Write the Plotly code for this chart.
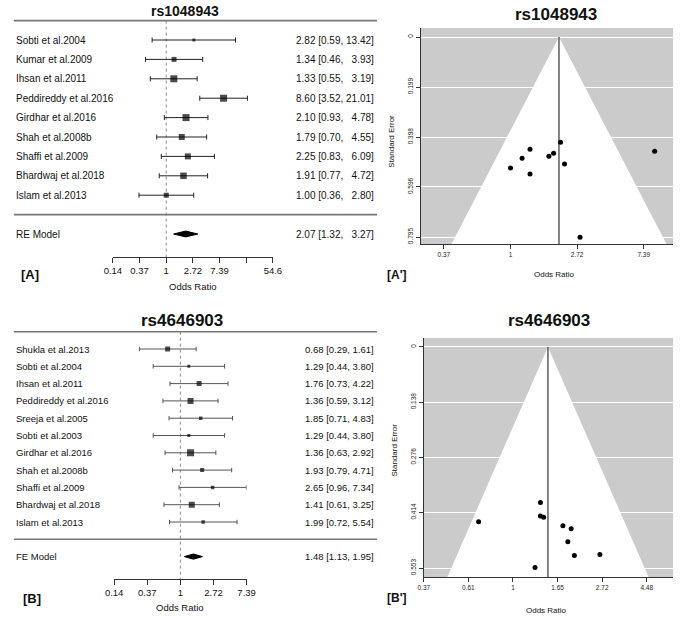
import numpy as np
import plotly.graph_objects as go

W, H = 685, 617
FONT = "Liberation Sans, Arial, sans-serif"

# ---------------- rs1048943 ----------------
A_STUDIES = ["Sobti et al.2004", "Kumar et al.2009", "Ihsan et al.2011", "Peddireddy et al.2016",
             "Girdhar et al.2016", "Shah et al.2008b", "Shaffi et al.2009", "Bhardwaj et al.2018",
             "Islam et al.2013"]
A_OR = [2.82, 1.34, 1.33, 8.60, 2.10, 1.79, 2.25, 1.91, 1.00]
A_LO = [0.59, 0.46, 0.55, 3.52, 0.93, 0.70, 0.83, 0.77, 0.36]
A_HI = [13.42, 3.93, 3.19, 21.01, 4.78, 4.55, 6.09, 4.72, 2.80]
A_MODEL = "RE Model"
A_POOLED = [2.07, 1.32, 3.27]

A_FUN_OR = [1.34, 1.19, 1.00, 1.34, 1.78, 1.91, 2.12, 2.25, 8.70, 2.84]
A_FUN_SE = [0.446, 0.482, 0.521, 0.545, 0.474, 0.462, 0.418, 0.505, 0.454, 0.796]
A_SE_TICKS = [0, 0.199, 0.398, 0.596, 0.795]

# ---------------- rs4646903 ----------------
B_STUDIES = ["Shukla et al.2013", "Sobti et al.2004", "Ihsan et al.2011", "Peddireddy et al.2016",
             "Sreeja et al.2005", "Sobti et al.2003", "Girdhar et al.2016", "Shah et al.2008b",
             "Shaffi et al.2009", "Bhardwaj et al.2018", "Islam et al.2013"]
B_OR = [0.68, 1.29, 1.76, 1.36, 1.85, 1.29, 1.36, 1.93, 2.65, 1.41, 1.99]
B_LO = [0.29, 0.44, 0.73, 0.59, 0.71, 0.44, 0.63, 0.79, 0.96, 0.61, 0.72]
B_HI = [1.61, 3.80, 4.22, 3.12, 4.83, 3.80, 2.92, 4.71, 7.34, 3.25, 5.54]
B_MODEL = "FE Model"
B_POOLED = [1.48, 1.13, 1.95]

B_FUN_OR = [1.36, 1.36, 1.41, 0.68, 1.75, 1.92, 1.85, 1.99, 2.65, 1.28]
B_FUN_SE = [0.389, 0.423, 0.426, 0.437, 0.447, 0.455, 0.487, 0.522, 0.519, 0.552]
B_SE_TICKS = [0, 0.138, 0.276, 0.414, 0.553]

# box sizes (px) as drawn in the forest plots
A_BOX = [3, 5, 7, 7, 7, 6, 6, 6.5, 5]
B_BOX = [5, 3, 5, 6, 3.5, 3, 7, 4, 3.5, 6, 3.5]


def px(x):
    return x / W


def py(y):
    return 1 - y / H


def ln10(v):
    return v / np.log(10)


fig = go.Figure()
annotations = []
shapes = []


def row_range(first_px, step, k, top_px, bottom_px):
    return [k - (bottom_px - first_px) / step, k + (first_px - top_px) / step]


def add_forest(names, orv, lo, hi, model, pooled, boxes, xa, ya, yrange, ci_color, fsize):
    k = len(names)
    rows = list(range(k, 0, -1))
    cap = 0.13
    cx, cy = [], []
    for r, l, h in zip(rows, lo, hi):
        cx += [l, h, None, l, l, None, h, h, None]
        cy += [r, r, None, r - cap, r + cap, None, r - cap, r + cap, None]
    # reference line at OR = 1
    fig.add_trace(go.Scatter(x=[1, 1], y=[k + 1, yrange[0]], mode="lines",
                             line=dict(color="#888", width=1, dash="dot"),
                             xaxis=xa, yaxis=ya, hoverinfo="skip"))
    fig.add_trace(go.Scatter(x=cx, y=cy, mode="lines", line=dict(color=ci_color, width=1),
                             xaxis=xa, yaxis=ya, hoverinfo="skip"))
    fig.add_trace(go.Scatter(x=orv, y=rows, mode="markers",
                             marker=dict(symbol="square", size=boxes, color="black", line=dict(width=0)),
                             xaxis=xa, yaxis=ya))
    est, plo, phi = pooled
    dh = 0.15
    fig.add_trace(go.Scatter(x=[plo, est, phi, est, plo], y=[-1, -1 + dh, -1, -1 - dh, -1],
                             mode="lines", fill="toself", fillcolor="black",
                             line=dict(color="black", width=1), xaxis=xa, yaxis=ya))
    yref = ya.replace("yaxis", "y")
    # horizontal rules
    for r in [k + 1, 0]:
        shapes.append(dict(type="line", xref="paper", yref=yref, x0=px(5), x1=px(378), y0=r, y1=r,
                           line=dict(color="#777", width=1.6)))
    wmax = max(len(f"{h:.2f}") for h in hi + [pooled[2]])
    labels = names + [model]
    vals = list(zip(orv, lo, hi)) + [tuple(pooled)]
    for r, name, (o, l, h) in zip(rows + [-1], labels, vals):
        hs = f"{h:.2f}"
        pad = "\u00a0\u00a0" * (wmax - len(hs))
        annotations.append(dict(text=name, x=px(5), y=r, xref="paper", yref=yref, xanchor="left",
                                showarrow=False, font=dict(size=fsize, color="#111")))
        annotations.append(dict(text=f"{o:.2f} [{l:.2f}, {pad}{hs}]", x=px(377), y=r, xref="paper",
                                yref=yref, xanchor="right", showarrow=False,
                                font=dict(size=fsize, color="#111")))


def add_funnel(fo, fse, est, xa, ya):
    bottom = 1.2
    fig.add_trace(go.Scatter(
        x=[np.exp(np.log(est) - 1.96 * bottom), est, np.exp(np.log(est) + 1.96 * bottom)],
        y=[bottom, 0, bottom], mode="lines", fill="toself", fillcolor="white",
        line=dict(width=0, color="white"), xaxis=xa, yaxis=ya, hoverinfo="skip"))
    fig.add_trace(go.Scatter(x=[est, est], y=[0, bottom], mode="lines",
                             line=dict(color="#333", width=1.2), xaxis=xa, yaxis=ya, hoverinfo="skip"))
    fig.add_trace(go.Scatter(x=fo, y=fse, mode="markers",
                             marker=dict(symbol="circle", size=5, color="black"),
                             xaxis=xa, yaxis=ya))
    shapes.append(dict(type="rect", xref=xa.replace("axis", "") + " domain",
                       yref=ya.replace("axis", "") + " domain", x0=0, x1=1, y0=0, y1=1,
                       fillcolor="#cbcbcb", line=dict(width=0), layer="below"))


# forest A
A_YR = row_range(40, 19.4, len(A_STUDIES), 15, 257)
add_forest(A_STUDIES, A_OR, A_LO, A_HI, A_MODEL, A_POOLED, A_BOX, "x", "y", A_YR, "#222", 10)
# forest B
B_YR = row_range(349, 17.3, len(B_STUDIES), 325, 579)
add_forest(B_STUDIES, B_OR, B_LO, B_HI, B_MODEL, B_POOLED, B_BOX, "x3", "y3", B_YR, "#555", 9.5)
# funnels
add_funnel(A_FUN_OR, A_FUN_SE, A_POOLED[0], "x2", "y2")
add_funnel(B_FUN_OR, B_FUN_SE, B_POOLED[0], "x4", "y4")

axis_line = "#333"
forest_x = dict(type="log", ticks="outside", ticklen=5, tickcolor=axis_line, showline=True,
                linecolor=axis_line, linewidth=1, showgrid=False, zeroline=False,
                tickfont=dict(size=9.5, color="#111"))
funnel_x = dict(type="log", ticks="outside", ticklen=4, tickcolor=axis_line, showline=True,
                linecolor=axis_line, linewidth=1, showgrid=False, zeroline=False,
                tickfont=dict(size=6.5, color="#222"))
funnel_y = dict(ticks="outside", ticklen=4, tickcolor=axis_line, showline=True, linecolor=axis_line,
                linewidth=1, showgrid=True, gridcolor="white", gridwidth=1, zeroline=False,
                tickangle=-90, tickfont=dict(size=6.5, color="#222"))

A_XT = [np.exp(v) for v in range(-2, 5)]
B_XT = [np.exp(v) for v in range(-2, 3)]

fig.update_layout(
    width=W, height=H, margin=dict(l=0, r=0, t=0, b=0),
    paper_bgcolor="white", plot_bgcolor="rgba(0,0,0,0)", showlegend=False,
    font=dict(family=FONT, color="#111"),
    xaxis=dict(forest_x, domain=[px(106.7), px(271)], anchor="y", range=[ln10(-2), ln10(4)],
               tickvals=A_XT, ticktext=["0.14", "0.37", "1", "2.72", "7.39", "", "54.6"]),
    yaxis=dict(domain=[py(257), py(15)], anchor="x", range=A_YR, visible=False),
    xaxis3=dict(forest_x, domain=[px(108), px(244)], anchor="y3", range=[ln10(-2), ln10(2)],
                tickvals=B_XT, ticktext=["0.14", "0.37", "1", "2.72", "7.39"]),
    yaxis3=dict(domain=[py(579), py(325)], anchor="x3", range=B_YR, visible=False),
    xaxis2=dict(funnel_x, domain=[px(423), px(682)], anchor="y2", range=[ln10(-1.345), ln10(2.44)],
                tickvals=[np.exp(v) for v in [-1, 0, 1, 2]], ticktext=["0.37", "1", "2.72", "7.39"]),
    yaxis2=dict(funnel_y, domain=[py(244), py(28)], anchor="x2", range=[0.8228, -0.0358],
                tickvals=A_SE_TICKS, ticktext=[f"{v:g}" for v in A_SE_TICKS]),
    xaxis4=dict(funnel_x, domain=[px(426), px(682)], anchor="y4", range=[ln10(-1.0), ln10(1.795)],
                tickvals=[np.exp(v) for v in [-1, -0.5, 0, 0.5, 1, 1.5]],
                ticktext=["0.37", "0.61", "1", "1.65", "2.72", "4.48"]),
    yaxis4=dict(funnel_y, domain=[py(577), py(338)], anchor="x4", range=[0.5755, -0.0225],
                tickvals=B_SE_TICKS, ticktext=[f"{v:g}" for v in B_SE_TICKS]),
)


def note(text, x, y, size, bold=False, angle=0):
    annotations.append(dict(text=f"<b>{text}</b>" if bold else text, x=px(x), y=py(y),
                            xref="paper", yref="paper", xanchor="center", yanchor="middle",
                            showarrow=False, textangle=angle, font=dict(size=size, color="#111")))


note("rs1048943", 181, 11, 14, bold=True)
note("rs4646903", 178, 320, 17, bold=True)
note("rs1048943", 562, 14, 17, bold=True)
note("rs4646903", 555, 320, 17, bold=True)
note("Odds Ratio", 189, 287, 9.5)
note("Odds Ratio", 176, 607, 9.5)
note("Odds Ratio", 560, 275, 8)
note("Odds Ratio", 552, 610, 8)
note("Standard Error", 392, 141, 8, angle=-90)
note("Standard Error", 395, 450, 8, angle=-90)
note("[A]", 22, 275, 13, bold=True)
note("[B]", 24, 598, 13, bold=True)
note("[A']", 398, 275, 12, bold=True)
note("[B']", 398, 598, 12, bold=True)

fig.update_layout(annotations=annotations, shapes=shapes)
# page margin off so the figure sits at the window's top-left corner
fig.write_html("out.html", config={"displayModeBar": False},
               post_script="document.body.style.margin='0px';")
